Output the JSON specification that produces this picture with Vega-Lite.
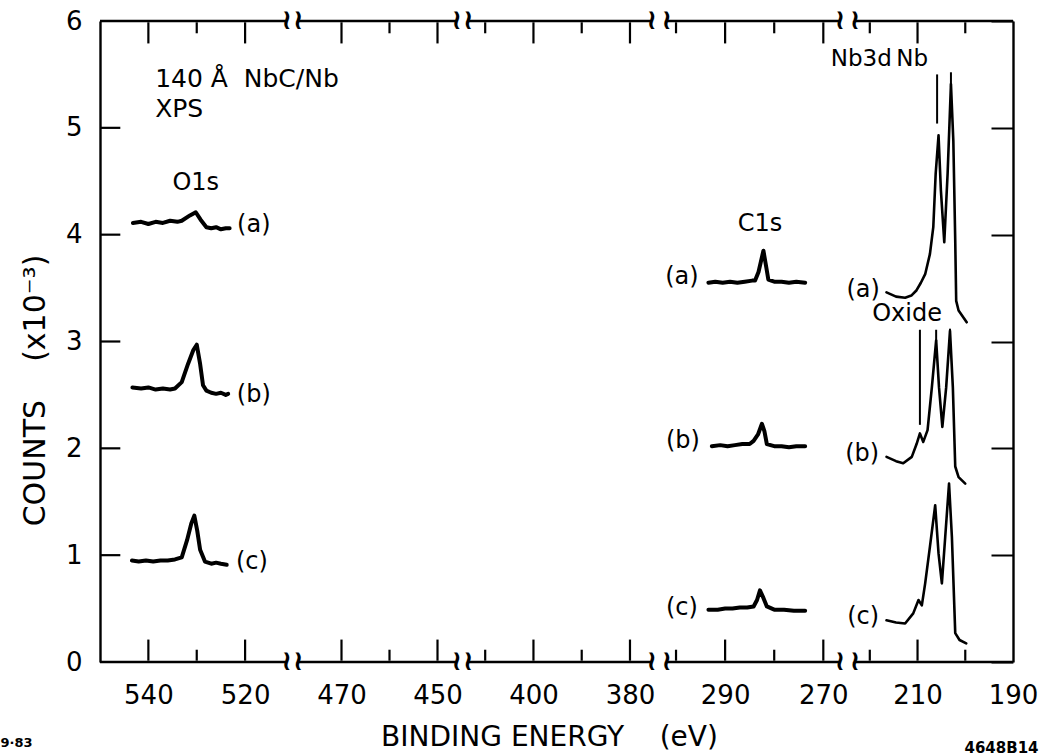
{
  "$schema": "https://vega.github.io/schema/vega-lite/v6.json",
  "width": 913,
  "height": 641,
  "autosize": {"type": "none"},
  "padding": {"left": 100, "top": 21, "right": 31, "bottom": 93},
  "background": "white",
  "config": {
    "view": {"stroke": null},
    "font": "DejaVu Sans",
    "axis": {"grid": false, "domain": false, "domainColor": "black", "domainWidth": 2.4, "tickColor": "black", "labelColor": "black", "titleColor": "black", "tickWidth": 2, "labelFont": "DejaVu Sans", "titleFont": "DejaVu Sans", "titleFontWeight": "normal", "labelFlush": false}
  },
  "datasets": {
    "traces": [
      {"s": "O1s-a", "E": 543.2, "c": 4.11}, {"s": "O1s-a", "E": 541.5, "c": 4.12}, {"s": "O1s-a", "E": 540, "c": 4.1}, {"s": "O1s-a", "E": 538.5, "c": 4.12}, {"s": "O1s-a", "E": 537, "c": 4.11}, {"s": "O1s-a", "E": 535.5, "c": 4.13}, {"s": "O1s-a", "E": 534, "c": 4.12}, {"s": "O1s-a", "E": 533.1, "c": 4.13}, {"s": "O1s-a", "E": 531.4, "c": 4.18}, {"s": "O1s-a", "E": 530.2, "c": 4.21}, {"s": "O1s-a", "E": 529.2, "c": 4.14}, {"s": "O1s-a", "E": 528, "c": 4.07}, {"s": "O1s-a", "E": 527, "c": 4.06}, {"s": "O1s-a", "E": 526, "c": 4.07}, {"s": "O1s-a", "E": 525, "c": 4.05}, {"s": "O1s-a", "E": 524, "c": 4.06}, {"s": "O1s-a", "E": 523.2, "c": 4.06},
      {"s": "O1s-b", "E": 543.3, "c": 2.57}, {"s": "O1s-b", "E": 541.5, "c": 2.56}, {"s": "O1s-b", "E": 540, "c": 2.57}, {"s": "O1s-b", "E": 538.5, "c": 2.55}, {"s": "O1s-b", "E": 537, "c": 2.56}, {"s": "O1s-b", "E": 535.5, "c": 2.55}, {"s": "O1s-b", "E": 534.5, "c": 2.56}, {"s": "O1s-b", "E": 533.1, "c": 2.62}, {"s": "O1s-b", "E": 531.8, "c": 2.79}, {"s": "O1s-b", "E": 530.7, "c": 2.92}, {"s": "O1s-b", "E": 530.0, "c": 2.97}, {"s": "O1s-b", "E": 529.3, "c": 2.79}, {"s": "O1s-b", "E": 528.7, "c": 2.59}, {"s": "O1s-b", "E": 528, "c": 2.54}, {"s": "O1s-b", "E": 527, "c": 2.52}, {"s": "O1s-b", "E": 526, "c": 2.51}, {"s": "O1s-b", "E": 525, "c": 2.52}, {"s": "O1s-b", "E": 524, "c": 2.5}, {"s": "O1s-b", "E": 523.5, "c": 2.51},
      {"s": "O1s-c", "E": 543.4, "c": 0.95}, {"s": "O1s-c", "E": 542, "c": 0.94}, {"s": "O1s-c", "E": 540.5, "c": 0.95}, {"s": "O1s-c", "E": 539, "c": 0.94}, {"s": "O1s-c", "E": 537.5, "c": 0.95}, {"s": "O1s-c", "E": 536, "c": 0.95}, {"s": "O1s-c", "E": 534.5, "c": 0.96}, {"s": "O1s-c", "E": 533.1, "c": 0.98}, {"s": "O1s-c", "E": 532, "c": 1.14}, {"s": "O1s-c", "E": 531.1, "c": 1.3}, {"s": "O1s-c", "E": 530.5, "c": 1.37}, {"s": "O1s-c", "E": 529.9, "c": 1.23}, {"s": "O1s-c", "E": 529.3, "c": 1.05}, {"s": "O1s-c", "E": 528.3, "c": 0.94}, {"s": "O1s-c", "E": 527, "c": 0.92}, {"s": "O1s-c", "E": 526, "c": 0.93}, {"s": "O1s-c", "E": 525, "c": 0.92}, {"s": "O1s-c", "E": 523.8, "c": 0.91},
      {"s": "C1s-a", "E": 293.4, "c": 3.55}, {"s": "C1s-a", "E": 292, "c": 3.56}, {"s": "C1s-a", "E": 290.5, "c": 3.55}, {"s": "C1s-a", "E": 289, "c": 3.56}, {"s": "C1s-a", "E": 287.5, "c": 3.55}, {"s": "C1s-a", "E": 286, "c": 3.56}, {"s": "C1s-a", "E": 284.5, "c": 3.57}, {"s": "C1s-a", "E": 283.9, "c": 3.57}, {"s": "C1s-a", "E": 283.2, "c": 3.65}, {"s": "C1s-a", "E": 282.2, "c": 3.85}, {"s": "C1s-a", "E": 281.6, "c": 3.69}, {"s": "C1s-a", "E": 281.2, "c": 3.58}, {"s": "C1s-a", "E": 280, "c": 3.56}, {"s": "C1s-a", "E": 278.5, "c": 3.56}, {"s": "C1s-a", "E": 277, "c": 3.55}, {"s": "C1s-a", "E": 275.5, "c": 3.56}, {"s": "C1s-a", "E": 273.7, "c": 3.55},
      {"s": "C1s-b", "E": 292.7, "c": 2.02}, {"s": "C1s-b", "E": 291, "c": 2.03}, {"s": "C1s-b", "E": 289.5, "c": 2.02}, {"s": "C1s-b", "E": 288, "c": 2.03}, {"s": "C1s-b", "E": 286.5, "c": 2.04}, {"s": "C1s-b", "E": 285, "c": 2.04}, {"s": "C1s-b", "E": 284.2, "c": 2.07}, {"s": "C1s-b", "E": 283.3, "c": 2.13}, {"s": "C1s-b", "E": 282.5, "c": 2.23}, {"s": "C1s-b", "E": 282, "c": 2.16}, {"s": "C1s-b", "E": 281.5, "c": 2.04}, {"s": "C1s-b", "E": 280, "c": 2.02}, {"s": "C1s-b", "E": 278.5, "c": 2.02}, {"s": "C1s-b", "E": 277, "c": 2.01}, {"s": "C1s-b", "E": 275.5, "c": 2.02}, {"s": "C1s-b", "E": 273.7, "c": 2.02},
      {"s": "C1s-c", "E": 293.4, "c": 0.49}, {"s": "C1s-c", "E": 291.5, "c": 0.49}, {"s": "C1s-c", "E": 290, "c": 0.5}, {"s": "C1s-c", "E": 288.5, "c": 0.5}, {"s": "C1s-c", "E": 287, "c": 0.51}, {"s": "C1s-c", "E": 285.5, "c": 0.51}, {"s": "C1s-c", "E": 284.2, "c": 0.52}, {"s": "C1s-c", "E": 283.5, "c": 0.58}, {"s": "C1s-c", "E": 282.9, "c": 0.67}, {"s": "C1s-c", "E": 282.2, "c": 0.6}, {"s": "C1s-c", "E": 281.5, "c": 0.52}, {"s": "C1s-c", "E": 280, "c": 0.49}, {"s": "C1s-c", "E": 278, "c": 0.49}, {"s": "C1s-c", "E": 276, "c": 0.48}, {"s": "C1s-c", "E": 273.7, "c": 0.48},
      {"s": "Nb-a", "E": 216.5, "c": 3.46}, {"s": "Nb-a", "E": 214.5, "c": 3.42}, {"s": "Nb-a", "E": 212.6, "c": 3.41}, {"s": "Nb-a", "E": 211.3, "c": 3.43}, {"s": "Nb-a", "E": 210.2, "c": 3.48}, {"s": "Nb-a", "E": 209.3, "c": 3.55}, {"s": "Nb-a", "E": 208.4, "c": 3.63}, {"s": "Nb-a", "E": 207.4, "c": 3.82}, {"s": "Nb-a", "E": 206.7, "c": 4.07}, {"s": "Nb-a", "E": 206.2, "c": 4.57}, {"s": "Nb-a", "E": 205.6, "c": 4.93}, {"s": "Nb-a", "E": 205.1, "c": 4.41}, {"s": "Nb-a", "E": 204.4, "c": 3.93}, {"s": "Nb-a", "E": 203.7, "c": 4.57}, {"s": "Nb-a", "E": 203.0, "c": 5.41}, {"s": "Nb-a", "E": 202.5, "c": 4.88}, {"s": "Nb-a", "E": 202.1, "c": 3.94}, {"s": "Nb-a", "E": 201.9, "c": 3.38}, {"s": "Nb-a", "E": 201.4, "c": 3.29}, {"s": "Nb-a", "E": 199.7, "c": 3.18},
      {"s": "Nb-b", "E": 216.5, "c": 1.92}, {"s": "Nb-b", "E": 214.5, "c": 1.88}, {"s": "Nb-b", "E": 213.0, "c": 1.86}, {"s": "Nb-b", "E": 211.2, "c": 1.92}, {"s": "Nb-b", "E": 210.2, "c": 2.04}, {"s": "Nb-b", "E": 209.5, "c": 2.14}, {"s": "Nb-b", "E": 208.8, "c": 2.06}, {"s": "Nb-b", "E": 207.9, "c": 2.17}, {"s": "Nb-b", "E": 207.0, "c": 2.57}, {"s": "Nb-b", "E": 206.1, "c": 3.01}, {"s": "Nb-b", "E": 205.5, "c": 2.57}, {"s": "Nb-b", "E": 204.8, "c": 2.2}, {"s": "Nb-b", "E": 204.0, "c": 2.57}, {"s": "Nb-b", "E": 203.2, "c": 3.1}, {"s": "Nb-b", "E": 202.6, "c": 2.57}, {"s": "Nb-b", "E": 202.1, "c": 1.83}, {"s": "Nb-b", "E": 201.4, "c": 1.73}, {"s": "Nb-b", "E": 200.0, "c": 1.67},
      {"s": "Nb-c", "E": 216.5, "c": 0.39}, {"s": "Nb-c", "E": 214.5, "c": 0.37}, {"s": "Nb-c", "E": 212.6, "c": 0.36}, {"s": "Nb-c", "E": 210.9, "c": 0.455}, {"s": "Nb-c", "E": 209.8, "c": 0.58}, {"s": "Nb-c", "E": 209.1, "c": 0.53}, {"s": "Nb-c", "E": 208.4, "c": 0.736}, {"s": "Nb-c", "E": 207.4, "c": 1.08}, {"s": "Nb-c", "E": 206.3, "c": 1.467}, {"s": "Nb-c", "E": 205.6, "c": 1.016}, {"s": "Nb-c", "E": 204.9, "c": 0.736}, {"s": "Nb-c", "E": 204.2, "c": 1.17}, {"s": "Nb-c", "E": 203.4, "c": 1.67}, {"s": "Nb-c", "E": 202.8, "c": 1.17}, {"s": "Nb-c", "E": 202.1, "c": 0.27}, {"s": "Nb-c", "E": 201.2, "c": 0.206}, {"s": "Nb-c", "E": 199.8, "c": 0.175}
    ],
    "ann": [
      {"t": "O1s", "E": 530.2, "c": 4.48}, {"t": "(a)", "E": 518.2, "c": 4.09}, {"t": "(b)", "E": 518.2, "c": 2.5}, {"t": "(c)", "E": 518.6, "c": 0.94},
      {"t": "C1s", "E": 282.9, "c": 4.1}, {"t": "(a)", "E": 298.8, "c": 3.6}, {"t": "(b)", "E": 298.6, "c": 2.07}, {"t": "(c)", "E": 298.8, "c": 0.51},
      {"t": "(a)", "E": 221.4, "c": 3.48}, {"t": "Oxide", "E": 212.2, "c": 3.26}, {"t": "(b)", "E": 221.6, "c": 1.95}, {"t": "(c)", "E": 221.4, "c": 0.42}
    ],
    "hdr": [
      {"t": "Nb3d", "E": 221.8, "c": 5.64}, {"t": "Nb", "E": 211.1, "c": 5.64}
    ],
    "intro": [
      {"t": "140 Å\u00a0\u00a0NbC/Nb", "E": 538.6, "c": 5.38}, {"t": "XPS", "E": 538.6, "c": 5.1}
    ],
    "marks": [
      {"E": 205.9, "c1": 5.5, "c2": 5.04}, {"E": 203.0, "c1": 5.52, "c2": 5.38},
      {"E": 209.5, "c1": 3.11, "c2": 2.22}, {"E": 206.1, "c1": 3.11, "c2": 3.0}, {"E": 203.2, "c1": 3.12, "c2": 3.09}
    ],
    "xtk": [
      {"E": 540, "y0": 0.012, "y1": 0.21}, {"E": 520, "y0": 0.012, "y1": 0.21}, {"E": 470, "y0": 0.012, "y1": 0.21}, {"E": 450, "y0": 0.012, "y1": 0.21}, {"E": 400, "y0": 0.012, "y1": 0.21}, {"E": 380, "y0": 0.012, "y1": 0.21}, {"E": 290, "y0": 0.012, "y1": 0.21}, {"E": 270, "y0": 0.012, "y1": 0.21}, {"E": 210, "y0": 0.012, "y1": 0.21},
      {"E": 540, "y0": 5.988, "y1": 5.79}, {"E": 520, "y0": 5.988, "y1": 5.79}, {"E": 470, "y0": 5.988, "y1": 5.79}, {"E": 450, "y0": 5.988, "y1": 5.79}, {"E": 400, "y0": 5.988, "y1": 5.79}, {"E": 380, "y0": 5.988, "y1": 5.79}, {"E": 290, "y0": 5.988, "y1": 5.79}, {"E": 270, "y0": 5.988, "y1": 5.79}, {"E": 210, "y0": 5.988, "y1": 5.79},
      {"E": 530, "y0": 0.012, "y1": 0.115}, {"E": 460, "y0": 0.012, "y1": 0.115}, {"E": 410, "y0": 0.012, "y1": 0.115}, {"E": 390, "y0": 0.012, "y1": 0.115}, {"E": 300, "y0": 0.012, "y1": 0.115}, {"E": 280, "y0": 0.012, "y1": 0.115}, {"E": 220, "y0": 0.012, "y1": 0.115}, {"E": 200, "y0": 0.012, "y1": 0.115},
      {"E": 530, "y0": 5.988, "y1": 5.885}, {"E": 460, "y0": 5.988, "y1": 5.885}, {"E": 410, "y0": 5.988, "y1": 5.885}, {"E": 390, "y0": 5.988, "y1": 5.885}, {"E": 300, "y0": 5.988, "y1": 5.885}, {"E": 280, "y0": 5.988, "y1": 5.885}, {"E": 220, "y0": 5.988, "y1": 5.885}, {"E": 200, "y0": 5.988, "y1": 5.885}
    ],
    "ytk": [
      {"v": 1, "x0": 549.8, "x1": 545.8}, {"v": 2, "x0": 549.8, "x1": 545.8}, {"v": 3, "x0": 549.8, "x1": 545.8}, {"v": 4, "x0": 549.8, "x1": 545.8}, {"v": 5, "x0": 549.8, "x1": 545.8}
    ],
    "segs": [
      {"a": 550, "b": 511.4}, {"a": 479, "b": 446}, {"a": 413.5, "b": 375.5}, {"a": 301.9, "b": 266.6}, {"a": 223.1, "b": 190}
    ],
    "brk": [
      {"E": 511.4}, {"E": 479}, {"E": 446}, {"E": 413.5}, {"E": 375.5}, {"E": 301.9}, {"E": 266.6}, {"E": 223.1}
    ]
  },
  "resolve": {"scale": {"x": "shared", "y": "shared"}, "axis": {"x": "independent", "y": "independent"}},
  "layer": [
    {
      "data": {"name": "xtk"},
      "mark": {"type": "rule", "color": "black", "strokeWidth": 2.2},
      "encoding": {
        "x": {"field": "E", "type": "quantitative",
          "scale": {"type": "linear", "domain": [550, 511.4, 479, 446, 413.5, 375.5, 301.9, 266.6, 223.1, 190], "range": [0, 186.7, 198.3, 356.7, 368.3, 551.7, 566.7, 740, 755, 913], "nice": false, "zero": false},
          "axis": null},
        "y": {"field": "y0", "type": "quantitative", "scale": {"domain": [0, 6], "nice": false, "zero": true}, "axis": null},
        "y2": {"field": "y1"}
      }
    },
    {
      "data": {"name": "ytk"},
      "mark": {"type": "rule", "color": "black", "strokeWidth": 2.2},
      "encoding": {
        "y": {"field": "v", "type": "quantitative", "axis": null},
        "x": {"field": "x0", "type": "quantitative", "axis": null},
        "x2": {"field": "x1"}
      }
    },
    {
      "data": {"name": "traces"},
      "transform": [{"filter": "indexof(datum.s, 'Nb') != 0"}],
      "mark": {"type": "line", "color": "black", "strokeWidth": 4, "strokeJoin": "round", "strokeCap": "round"},
      "encoding": {
        "x": {"field": "E", "type": "quantitative",
          "axis": {"orient": "bottom", "values": [540, 520, 470, 450, 400, 380, 290, 270, 210, 190], "ticks": false, "labelPadding": 20, "labelFontSize": 26,
            "title": "BINDING ENERGY\u00a0\u00a0\u00a0\u00a0(eV)", "titleFontSize": 28, "titleX": 449, "titleY": 75, "titleAlign": "center", "titleBaseline": "middle"}},
        "y": {"field": "c", "type": "quantitative",
          "axis": {"orient": "left", "values": [0, 1, 2, 3, 4, 5, 6], "ticks": false, "domain": true, "labelPadding": 18, "labelFontSize": 26,
            "title": "COUNTS\u00a0\u00a0\u00a0\u00a0(x10⁻³)", "titleFontSize": 30, "titleX": -65, "titleY": 369, "titleAngle": -90, "titleBaseline": "middle", "titleAlign": "center"}},
        "detail": {"field": "s"}
      }
    },
    {
      "data": {"name": "traces"},
      "transform": [{"filter": "indexof(datum.s, 'Nb') == 0"}],
      "mark": {"type": "line", "color": "black", "strokeWidth": 2.6, "strokeJoin": "round", "strokeCap": "round"},
      "encoding": {
        "x": {"field": "E", "type": "quantitative", "axis": null},
        "y": {"field": "c", "type": "quantitative", "axis": null},
        "detail": {"field": "s"}
      }
    },
    {
      "data": {"name": "marks"},
      "mark": {"type": "rule", "color": "black", "strokeWidth": 2},
      "encoding": {
        "x": {"field": "E", "type": "quantitative",
          "axis": {"orient": "bottom", "values": [530], "labels": false, "ticks": false,
            "title": "9·83", "titleFontSize": 13, "titleFontWeight": "bold", "titleX": -84, "titleY": 80, "titleAlign": "center", "titleBaseline": "middle"}},
        "y": {"field": "c1", "type": "quantitative",
          "axis": {"orient": "right", "values": [0, 1, 2, 3, 4, 5, 6], "labels": false, "ticks": true, "tickSize": -22, "domain": true, "title": null}},
        "y2": {"field": "c2"}
      }
    },
    {
      "data": {"name": "ann"},
      "mark": {"type": "text", "fontSize": 24, "font": "DejaVu Sans", "color": "black", "align": "center", "baseline": "middle"},
      "encoding": {
        "x": {"field": "E", "type": "quantitative",
          "axis": {"orient": "top", "values": [530], "labels": false, "ticks": false,
            "title": "4648B14", "titleFontSize": 15, "titleFontWeight": "bold", "titleX": 901, "titleY": 726, "titleAlign": "center", "titleBaseline": "middle", "titleAngle": 0}},
        "y": {"field": "c", "type": "quantitative", "axis": null},
        "text": {"field": "t"}
      }
    },
    {
      "data": {"name": "hdr"},
      "mark": {"type": "text", "fontSize": 23, "font": "DejaVu Sans", "color": "black", "align": "center", "baseline": "middle"},
      "encoding": {
        "x": {"field": "E", "type": "quantitative", "axis": null},
        "y": {"field": "c", "type": "quantitative", "axis": null},
        "text": {"field": "t"}
      }
    },
    {
      "data": {"name": "intro"},
      "mark": {"type": "text", "fontSize": 25, "font": "DejaVu Sans", "color": "black", "align": "left", "baseline": "alphabetic"},
      "encoding": {
        "x": {"field": "E", "type": "quantitative", "axis": null},
        "y": {"field": "c", "type": "quantitative", "axis": null},
        "text": {"field": "t"}
      }
    },
    {
      "data": {"name": "segs"},
      "mark": {"type": "rule", "color": "black", "strokeWidth": 2.4, "clip": false},
      "encoding": {
        "x": {"field": "a", "type": "quantitative", "axis": null},
        "x2": {"field": "b"},
        "y": {"datum": 0, "type": "quantitative", "axis": null}
      }
    },
    {
      "data": {"name": "segs"},
      "mark": {"type": "rule", "color": "black", "strokeWidth": 2.4, "clip": false},
      "encoding": {
        "x": {"field": "a", "type": "quantitative", "axis": null},
        "x2": {"field": "b"},
        "y": {"datum": 6, "type": "quantitative", "axis": null}
      }
    },
    {
      "data": {"name": "brk"},
      "mark": {"type": "text", "fontSize": 28, "fontWeight": "bold", "font": "DejaVu Sans", "color": "black", "align": "center", "baseline": "middle", "text": "≀"},
      "encoding": {
        "x": {"field": "E", "type": "quantitative", "axis": null},
        "y": {"datum": 0, "type": "quantitative", "axis": null}
      }
    },
    {
      "data": {"name": "brk"},
      "mark": {"type": "text", "fontSize": 28, "fontWeight": "bold", "font": "DejaVu Sans", "color": "black", "align": "center", "baseline": "middle", "text": "≀"},
      "encoding": {
        "x": {"field": "E", "type": "quantitative", "axis": null},
        "y": {"datum": 6, "type": "quantitative", "axis": null}
      }
    }
  ]
}
